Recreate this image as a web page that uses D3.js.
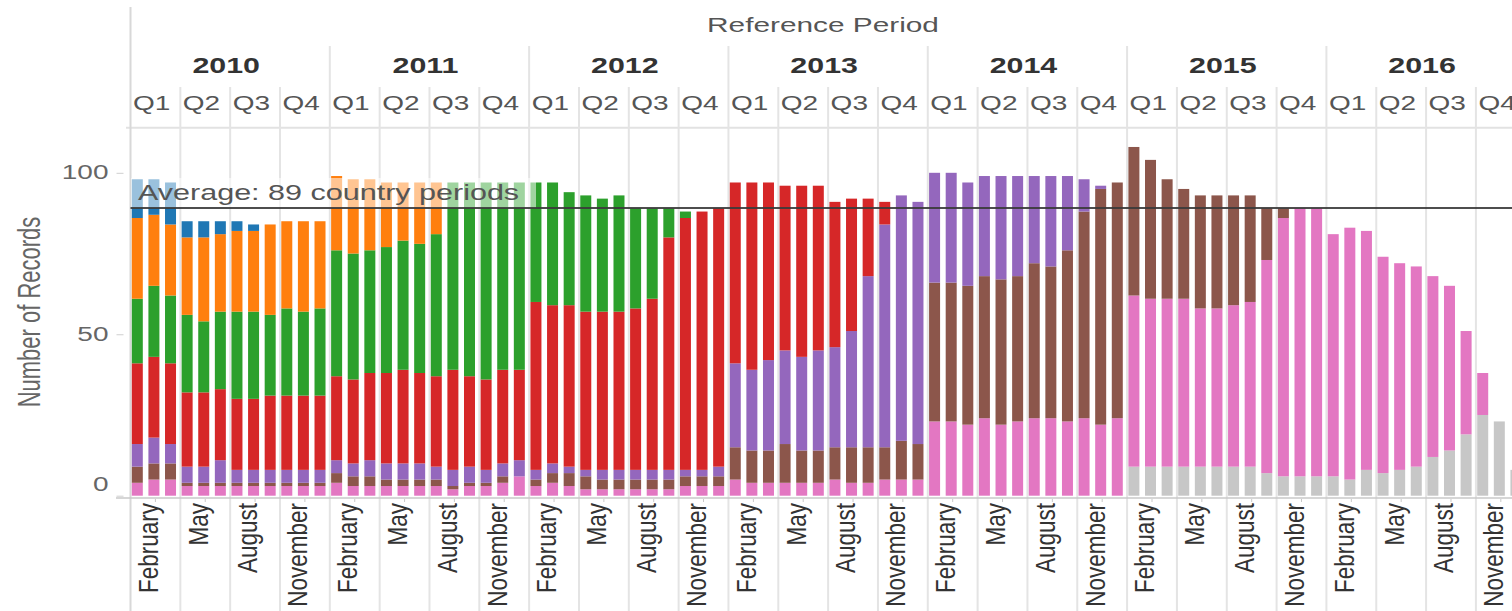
<!DOCTYPE html>
<html>
<head>
<meta charset="utf-8">
<script src="https://cdn.jsdelivr.net/npm/d3@7"></script>
<style>
  body { margin: 0; background: #fff; }
  svg { display: block; font-family: "Liberation Sans", Arial, sans-serif; }
</style>
</head>
<body>
<div id="chart"></div>
<script>
// ===========================================================
// DATA
// ===========================================================
var years = [2010, 2011, 2012, 2013, 2014, 2015, 2016];
var quarterLabels = ["Q1", "Q2", "Q3", "Q4"];
var monthTickLabels = ["February", "May", "August", "November"];
var yTickValues = [0, 50, 100];

// stack order, bottom to top
var seriesKeys = ["gray", "pink", "brown", "purple", "red", "green", "orange", "blue"];

// one value per month, Jan 2010 .. Dec 2016 (12 per line)
var grayCounts = [
    0, 0, 0, 0, 0, 0, 0, 0, 0, 0, 0, 0,
    0, 0, 0, 0, 0, 0, 0, 0, 0, 0, 0, 0,
    0, 0, 0, 0, 0, 0, 0, 0, 0, 0, 0, 0,
    0, 0, 0, 0, 0, 0, 0, 0, 0, 0, 0, 0,
    0, 0, 0, 0, 0, 0, 0, 0, 0, 0, 0, 0,
    9, 9, 9, 9, 9, 9, 9, 9, 7, 6, 6, 6,
    6, 5, 8, 7, 8, 9, 12, 14, 19, 25, 23, 8
];
var pinkCounts = [
    4, 5, 5, 3, 3, 3, 3, 3, 3, 3, 3, 3,
    4, 3, 3, 3, 3, 3, 3, 2, 3, 3, 4, 6,
    3, 4, 3, 2, 2, 2, 2, 2, 2, 3, 3, 3,
    5, 4, 4, 4, 4, 4, 5, 4, 4, 5, 5, 5,
    23, 23, 22, 24, 22, 23, 24, 24, 23, 24, 22, 24,
    53, 52, 52, 52, 49, 49, 50, 51, 66, 80, 83, 83,
    75, 78, 74, 67, 64, 62, 56, 51, 32, 13, 0, 0
];
var brownCounts = [
    5, 5, 5, 1, 1, 1, 1, 1, 1, 1, 1, 1,
    3, 3, 3, 2, 2, 2, 2, 1, 1, 1, 2, 0,
    2, 3, 4, 4, 3, 3, 3, 3, 3, 3, 3, 3,
    10, 10, 10, 12, 10, 10, 10, 11, 11, 10, 12, 11,
    43, 43, 43, 44, 45, 45, 48, 47, 53, 64, 73, 73,
    46, 43, 37, 34, 35, 35, 34, 33, 16, 3, 0, 0,
    0, 0, 0, 0, 0, 0, 0, 0, 0, 0, 0, 0
];
var purpleCounts = [
    7, 8, 6, 5, 5, 7, 4, 4, 4, 4, 4, 4,
    4, 4, 5, 5, 5, 5, 4, 5, 5, 4, 4, 5,
    3, 3, 2, 2, 3, 3, 3, 3, 3, 2, 2, 3,
    26, 25, 28, 29, 29, 31, 31, 36, 53, 69, 76, 75,
    34, 34, 32, 31, 32, 31, 27, 28, 23, 10, 1, 0,
    0, 0, 0, 0, 0, 0, 0, 0, 0, 0, 0, 0,
    0, 0, 0, 0, 0, 0, 0, 0, 0, 0, 0, 0
];
var redCounts = [
    25, 25, 25, 23, 23, 22, 22, 22, 23, 23, 23, 23,
    26, 26, 27, 28, 29, 28, 28, 31, 28, 28, 29, 28,
    52, 49, 50, 49, 49, 49, 50, 53, 72, 78, 80, 80,
    56, 58, 55, 51, 53, 51, 45, 41, 24, 7, 0, 0,
    0, 0, 0, 0, 0, 0, 0, 0, 0, 0, 0, 0,
    0, 0, 0, 0, 0, 0, 0, 0, 0, 0, 0, 0,
    0, 0, 0, 0, 0, 0, 0, 0, 0, 0, 0, 0
];
var greenCounts = [
    20, 22, 21, 24, 22, 24, 27, 27, 25, 27, 26, 27,
    39, 39, 38, 39, 40, 40, 44, 58, 60, 61, 58, 58,
    37, 38, 35, 36, 35, 36, 31, 28, 9, 2, 0, 0,
    0, 0, 0, 0, 0, 0, 0, 0, 0, 0, 0, 0,
    0, 0, 0, 0, 0, 0, 0, 0, 0, 0, 0, 0,
    0, 0, 0, 0, 0, 0, 0, 0, 0, 0, 0, 0,
    0, 0, 0, 0, 0, 0, 0, 0, 0, 0, 0, 0
];
var orangeCounts = [
    25, 22, 22, 24, 26, 24, 25, 25, 28, 27, 28, 27,
    23, 23, 22, 20, 18, 19, 16, 0, 0, 0, 0, 0,
    0, 0, 0, 0, 0, 0, 0, 0, 0, 0, 0, 0,
    0, 0, 0, 0, 0, 0, 0, 0, 0, 0, 0, 0,
    0, 0, 0, 0, 0, 0, 0, 0, 0, 0, 0, 0,
    0, 0, 0, 0, 0, 0, 0, 0, 0, 0, 0, 0,
    0, 0, 0, 0, 0, 0, 0, 0, 0, 0, 0, 0
];
var blueCounts = [
    12, 11, 13, 5, 5, 4, 3, 2, 0, 0, 0, 0,
    0, 0, 0, 0, 0, 0, 0, 0, 0, 0, 0, 0,
    0, 0, 0, 0, 0, 0, 0, 0, 0, 0, 0, 0,
    0, 0, 0, 0, 0, 0, 0, 0, 0, 0, 0, 0,
    0, 0, 0, 0, 0, 0, 0, 0, 0, 0, 0, 0,
    0, 0, 0, 0, 0, 0, 0, 0, 0, 0, 0, 0,
    0, 0, 0, 0, 0, 0, 0, 0, 0, 0, 0, 0
];

var seriesColors = {
    gray: "#c7c7c7", pink: "#e377c2", brown: "#8c564b", purple: "#9467bd",
    red: "#d62728", green: "#2ca02c", orange: "#ff7f0e", blue: "#1f77b4"
};

// ===========================================================
// SET SIZES
// ===========================================================
var svgWidth = 1512;
var svgHeight = 611;
var plotLeft = 130.5;
var monthStep = 16.61;
var barOffset = 1.3;
var barWidth = 11;
var stretch = 1.4; // header text is drawn wide

var svg = d3.select("#chart")
    .append("svg")
    .attr("width", svgWidth)
    .attr("height", svgHeight);

// ===========================================================
// SCALES
// ===========================================================
var months = d3.range(years.length * 12);

var x = d3.scaleBand()
    .domain(months)
    .range([plotLeft, plotLeft + monthStep * months.length])
    .padding(0);

var y = d3.scaleLinear()
    .domain([0, 100])
    .range([495.7, 172.8]);

var countsByKey = {
    gray: grayCounts, pink: pinkCounts, brown: brownCounts, purple: purpleCounts,
    red: redCounts, green: greenCounts, orange: orangeCounts, blue: blueCounts
};

var table = months.map(function(i) {
    var row = {month: i};
    seriesKeys.forEach(function(k) { row[k] = countsByKey[k][i]; });
    return row;
});

var layers = d3.stack().keys(seriesKeys)(table);
var totals = table.map(function(r) { return d3.sum(seriesKeys, function(k) { return r[k]; }); });
var average = d3.mean(totals);

// ===========================================================
// GRID / DIVIDERS
// ===========================================================
var grid = svg.append("g");

grid.append("line")
    .attr("x1", 126).attr("x2", svgWidth)
    .attr("y1", 127.7).attr("y2", 127.7)
    .attr("stroke", "#e2e2e2").attr("stroke-width", 2);

grid.selectAll(".divider")
    .data(d3.range(years.length * 4))
    .enter()
    .append("line")
    .attr("x1", function(q) { return x(q * 3); })
    .attr("x2", function(q) { return x(q * 3); })
    .attr("y1", function(q) { return q === 0 ? 7 : (q % 4 === 0 ? 46 : 87); })
    .attr("y2", svgHeight)
    .attr("stroke", function(q) { return q === 0 ? "#d8d8d8" : "#e4e4e4"; })
    .attr("stroke-width", 2);

// ===========================================================
// HEADER
// ===========================================================
svg.append("text")
    .attr("transform", "translate(823,31.5) scale(1.42,1)")
    .attr("text-anchor", "middle")
    .style("font-size", "21px")
    .style("fill", "#555")
    .text("Reference Period");

svg.append("g")
    .selectAll("text")
    .data(years)
    .enter()
    .append("text")
    .attr("transform", function(d, i) { return "translate(" + (x(i * 12) + 6 * monthStep - 4) + ",73) scale(1.38,1)"; })
    .attr("text-anchor", "middle")
    .style("font-size", "22px")
    .style("font-weight", "bold")
    .style("fill", "#333")
    .text(function(d) { return d; });

svg.append("g")
    .selectAll("text")
    .data(d3.range(years.length * 4))
    .enter()
    .append("text")
    .attr("transform", function(q) { return "translate(" + (x(q * 3) + 2.5) + ",110) scale(" + stretch + ",1)"; })
    .style("font-size", "20px")
    .style("fill", "#555")
    .text(function(q) { return quarterLabels[q % 4]; });

// ===========================================================
// BARS
// ===========================================================
svg.append("g")
    .selectAll("g")
    .data(layers)
    .enter()
    .append("g")
    .attr("fill", function(d) { return seriesColors[d.key]; })
    .selectAll("rect")
    .data(function(d) { return d.filter(function(p) { return p[1] > p[0]; }); })
    .enter()
    .append("rect")
    .attr("x", function(p) { return x(p.data.month) + barOffset; })
    .attr("width", barWidth)
    .attr("y", function(p) { return y(p[1]); })
    .attr("height", function(p) { return y(p[0]) - y(p[1]); });

// ===========================================================
// AVERAGE LINE & LABEL
// ===========================================================
svg.append("rect")
    .attr("x", 131).attr("y", 178)
    .attr("width", 405).attr("height", y(average) - 178)
    .attr("fill", "#fff")
    .attr("opacity", 0.55);

svg.append("line")
    .attr("x1", plotLeft).attr("x2", svgWidth)
    .attr("y1", y(average)).attr("y2", y(average))
    .attr("stroke", "#3a3a3a")
    .attr("stroke-width", 2)
    .attr("opacity", 0.9);

svg.append("text")
    .attr("transform", "translate(138,200) scale(1.42,1)")
    .style("font-size", "21.5px")
    .style("fill", "#555")
    .text("Average: " + Math.round(average) + " country periods");

// ===========================================================
// AXES
// ===========================================================
svg.append("line")
    .attr("x1", 116).attr("x2", svgWidth)
    .attr("y1", 498).attr("y2", 498)
    .attr("stroke", "#c9c9c9").attr("stroke-width", 1.5);

var yAxisGroup = svg.append("g")
    .attr("transform", "translate(" + plotLeft + ",0)")
    .call(d3.axisLeft(y).tickValues(yTickValues).tickSize(14).tickPadding(0))
    .attr("font-family", null)
    .attr("font-size", null);

yAxisGroup.select(".domain").remove();
yAxisGroup.selectAll(".tick line")
    .attr("x1", -7)
    .attr("x2", -14)
    .attr("stroke", "#cfcfcf");
yAxisGroup.selectAll(".tick text")
    .attr("x", 0)
    .attr("dy", "0.35em")
    .attr("transform", function(d) { return "translate(-22," + (d === 0 ? -12.5 : -1) + ") scale(" + stretch + ",1)"; })
    .style("font-size", "20px")
    .style("fill", "#666");

svg.append("text")
    .attr("transform", "translate(40,312) scale(1.45,1) rotate(-90)")
    .attr("text-anchor", "middle")
    .style("font-size", "22px")
    .style("fill", "#666")
    .text("Number of Records");

// month labels under each quarter
var monthTicks = [];
years.forEach(function(yr, yi) {
    monthTickLabels.forEach(function(lbl, qi) {
        monthTicks.push({month: yi * 12 + qi * 3 + 1, label: lbl});
    });
});

svg.append("g")
    .selectAll("line")
    .data(monthTicks)
    .enter()
    .append("line")
    .attr("x1", function(d) { return x(d.month) + x.bandwidth() / 2; })
    .attr("x2", function(d) { return x(d.month) + x.bandwidth() / 2; })
    .attr("y1", 499).attr("y2", 502)
    .attr("stroke", "#c9c9c9");

svg.append("g")
    .selectAll("text")
    .data(monthTicks)
    .enter()
    .append("text")
    .attr("transform", function(d) { return "translate(" + (x(d.month) + x.bandwidth() / 2 + 2.4) + ",503) scale(1.25,1) rotate(-90)"; })
    .attr("text-anchor", "end")
    .style("font-size", "22.5px")
    .style("fill", "#333")
    .text(function(d) { return d.label; });
</script>
</body>
</html>
